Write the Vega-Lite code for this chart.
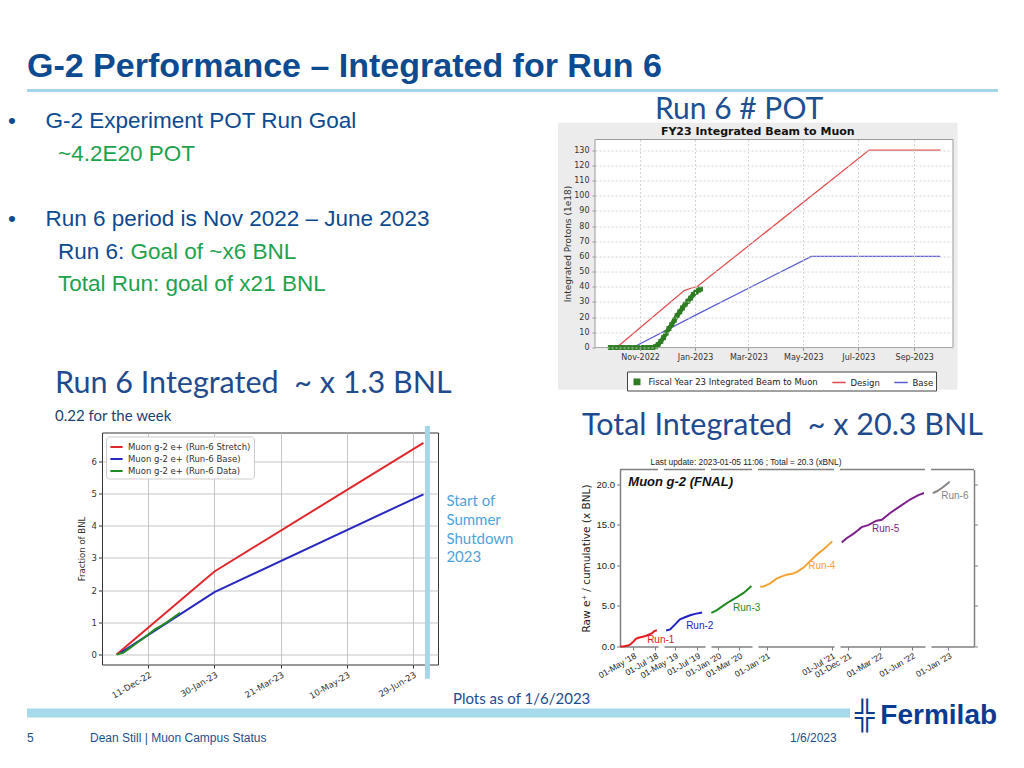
{
"$schema": "https://vega.github.io/schema/vega-lite/v6.json",
"background": "white",
"padding": {"left": 8, "top": 49.5, "right": 2, "bottom": 2},
"config": {
  "font": "Liberation Sans",
  "view": {"stroke": null},
  "axis": {"labelFont": "DejaVu Sans", "titleFont": "DejaVu Sans", "titleFontWeight": "normal"},
  "legend": {"labelFont": "DejaVu Sans"},
  "title": {"fontWeight": "normal"}
},
"datasets": {
  "slide": [
    {"line": 1, "level": 0, "tone": "normal", "continued": false, "text": "\u2022\u00a0\u00a0\u00a0\u00a0\u2009G-2 Experiment POT Run Goal"},
    {"line": 2, "level": 1, "tone": "highlight", "continued": false, "text": "~4.2E20 POT"},
    {"line": 4, "level": 0, "tone": "normal", "continued": false, "text": "\u2022\u00a0\u00a0\u00a0\u00a0\u2009Run 6 period is Nov 2022 \u2013 June 2023"},
    {"line": 5, "level": 1, "tone": "normal", "continued": false, "text": "Run 6:"},
    {"line": 5, "level": 1, "tone": "highlight", "continued": true, "text": "Goal of ~x6 BNL"},
    {"line": 6, "level": 1, "tone": "highlight", "continued": false, "text": "Total Run: goal of x21 BNL"}
  ],
  "run6": [
    {"series": "Muon g-2 e+ (Run-6 Stretch)", "date": "2022-11-17", "value": 0},
    {"series": "Muon g-2 e+ (Run-6 Stretch)", "date": "2023-01-30", "value": 2.58},
    {"series": "Muon g-2 e+ (Run-6 Stretch)", "date": "2023-07-07", "value": 6.58},
    {"series": "Muon g-2 e+ (Run-6 Base)", "date": "2022-11-20", "value": 0.05},
    {"series": "Muon g-2 e+ (Run-6 Base)", "date": "2023-01-30", "value": 1.94},
    {"series": "Muon g-2 e+ (Run-6 Base)", "date": "2023-07-07", "value": 4.98},
    {"series": "Muon g-2 e+ (Run-6 Data)", "date": "2022-11-17", "value": 0},
    {"series": "Muon g-2 e+ (Run-6 Data)", "date": "2022-11-22", "value": 0.05},
    {"series": "Muon g-2 e+ (Run-6 Data)", "date": "2022-11-27", "value": 0.2},
    {"series": "Muon g-2 e+ (Run-6 Data)", "date": "2022-12-02", "value": 0.35},
    {"series": "Muon g-2 e+ (Run-6 Data)", "date": "2022-12-07", "value": 0.5},
    {"series": "Muon g-2 e+ (Run-6 Data)", "date": "2022-12-11", "value": 0.62},
    {"series": "Muon g-2 e+ (Run-6 Data)", "date": "2022-12-16", "value": 0.78},
    {"series": "Muon g-2 e+ (Run-6 Data)", "date": "2022-12-21", "value": 0.9},
    {"series": "Muon g-2 e+ (Run-6 Data)", "date": "2022-12-26", "value": 1.03},
    {"series": "Muon g-2 e+ (Run-6 Data)", "date": "2022-12-31", "value": 1.18},
    {"series": "Muon g-2 e+ (Run-6 Data)", "date": "2023-01-04", "value": 1.3}
  ],
  "shutdown": [
    {"date": "2023-07-10", "note": "Start of\nSummer\nShutdown\n2023"}
  ],
  "pot": [
    {"series": "Design", "date": "2022-10-06", "value": 0},
    {"series": "Design", "date": "2022-12-20", "value": 37.5},
    {"series": "Design", "date": "2022-12-27", "value": 39.0},
    {"series": "Design", "date": "2023-01-03", "value": 40.0},
    {"series": "Design", "date": "2023-07-13", "value": 130},
    {"series": "Design", "date": "2023-09-30", "value": 130},
    {"series": "Base", "date": "2022-10-24", "value": 0},
    {"series": "Base", "date": "2023-01-02", "value": 21.5},
    {"series": "Base", "date": "2023-05-10", "value": 60},
    {"series": "Base", "date": "2023-09-30", "value": 60},
    {"series": "Fiscal Year 23 Integrated Beam to Muon", "date": "2022-09-29", "value": 0},
    {"series": "Fiscal Year 23 Integrated Beam to Muon", "date": "2022-10-06", "value": 0},
    {"series": "Fiscal Year 23 Integrated Beam to Muon", "date": "2022-10-13", "value": 0},
    {"series": "Fiscal Year 23 Integrated Beam to Muon", "date": "2022-10-20", "value": 0},
    {"series": "Fiscal Year 23 Integrated Beam to Muon", "date": "2022-10-27", "value": 0},
    {"series": "Fiscal Year 23 Integrated Beam to Muon", "date": "2022-11-03", "value": 0},
    {"series": "Fiscal Year 23 Integrated Beam to Muon", "date": "2022-11-10", "value": 0},
    {"series": "Fiscal Year 23 Integrated Beam to Muon", "date": "2022-11-15", "value": 0},
    {"series": "Fiscal Year 23 Integrated Beam to Muon", "date": "2022-11-18", "value": 0.5},
    {"series": "Fiscal Year 23 Integrated Beam to Muon", "date": "2022-11-21", "value": 2},
    {"series": "Fiscal Year 23 Integrated Beam to Muon", "date": "2022-11-24", "value": 4},
    {"series": "Fiscal Year 23 Integrated Beam to Muon", "date": "2022-11-27", "value": 6.5},
    {"series": "Fiscal Year 23 Integrated Beam to Muon", "date": "2022-11-30", "value": 9.5},
    {"series": "Fiscal Year 23 Integrated Beam to Muon", "date": "2022-12-03", "value": 12.5},
    {"series": "Fiscal Year 23 Integrated Beam to Muon", "date": "2022-12-06", "value": 15},
    {"series": "Fiscal Year 23 Integrated Beam to Muon", "date": "2022-12-09", "value": 18},
    {"series": "Fiscal Year 23 Integrated Beam to Muon", "date": "2022-12-12", "value": 21},
    {"series": "Fiscal Year 23 Integrated Beam to Muon", "date": "2022-12-15", "value": 23.5},
    {"series": "Fiscal Year 23 Integrated Beam to Muon", "date": "2022-12-18", "value": 26},
    {"series": "Fiscal Year 23 Integrated Beam to Muon", "date": "2022-12-21", "value": 28.5},
    {"series": "Fiscal Year 23 Integrated Beam to Muon", "date": "2022-12-24", "value": 30.5},
    {"series": "Fiscal Year 23 Integrated Beam to Muon", "date": "2022-12-27", "value": 32.5},
    {"series": "Fiscal Year 23 Integrated Beam to Muon", "date": "2022-12-30", "value": 35},
    {"series": "Fiscal Year 23 Integrated Beam to Muon", "date": "2023-01-02", "value": 36.5},
    {"series": "Fiscal Year 23 Integrated Beam to Muon", "date": "2023-01-05", "value": 37.8},
    {"series": "Fiscal Year 23 Integrated Beam to Muon", "date": "2023-01-07", "value": 38.5}
  ],
  "bnl": [
    {"run": "Run-1", "date": "2018-03-26", "value": 0.0},
    {"run": "Run-1", "date": "2018-04-06", "value": 0.03},
    {"run": "Run-1", "date": "2018-04-18", "value": 0.12},
    {"run": "Run-1", "date": "2018-04-25", "value": 0.3},
    {"run": "Run-1", "date": "2018-05-02", "value": 0.6},
    {"run": "Run-1", "date": "2018-05-09", "value": 0.95},
    {"run": "Run-1", "date": "2018-05-16", "value": 1.08},
    {"run": "Run-1", "date": "2018-05-28", "value": 1.2},
    {"run": "Run-1", "date": "2018-06-08", "value": 1.35},
    {"run": "Run-1", "date": "2018-06-22", "value": 1.62},
    {"run": "Run-1", "date": "2018-06-29", "value": 1.9},
    {"run": "Run-1", "date": "2018-07-06", "value": 2.0},
    {"run": "Run-2", "date": "2019-04-07", "value": 1.97},
    {"run": "Run-2", "date": "2019-04-18", "value": 2.1},
    {"run": "Run-2", "date": "2019-05-01", "value": 2.7},
    {"run": "Run-2", "date": "2019-05-15", "value": 3.35},
    {"run": "Run-2", "date": "2019-05-29", "value": 3.6},
    {"run": "Run-2", "date": "2019-06-12", "value": 3.85},
    {"run": "Run-2", "date": "2019-06-26", "value": 4.02},
    {"run": "Run-2", "date": "2019-07-15", "value": 4.18},
    {"run": "Run-3", "date": "2019-12-13", "value": 4.15},
    {"run": "Run-3", "date": "2019-12-28", "value": 4.45},
    {"run": "Run-3", "date": "2020-01-15", "value": 5.0},
    {"run": "Run-3", "date": "2020-02-05", "value": 5.6},
    {"run": "Run-3", "date": "2020-02-23", "value": 6.05},
    {"run": "Run-3", "date": "2020-03-14", "value": 6.6},
    {"run": "Run-3", "date": "2020-03-28", "value": 7.1},
    {"run": "Run-3", "date": "2020-04-05", "value": 7.45},
    {"run": "Run-4", "date": "2020-12-13", "value": 7.35},
    {"run": "Run-4", "date": "2020-12-22", "value": 7.4},
    {"run": "Run-4", "date": "2021-01-09", "value": 7.75},
    {"run": "Run-4", "date": "2021-01-28", "value": 8.35},
    {"run": "Run-4", "date": "2021-02-10", "value": 8.6},
    {"run": "Run-4", "date": "2021-02-25", "value": 8.85},
    {"run": "Run-4", "date": "2021-03-12", "value": 8.95},
    {"run": "Run-4", "date": "2021-03-26", "value": 9.2},
    {"run": "Run-4", "date": "2021-04-14", "value": 9.75},
    {"run": "Run-4", "date": "2021-05-02", "value": 10.55},
    {"run": "Run-4", "date": "2021-05-21", "value": 11.35},
    {"run": "Run-4", "date": "2021-06-09", "value": 12.0},
    {"run": "Run-4", "date": "2021-07-02", "value": 12.95},
    {"run": "Run-5", "date": "2021-11-12", "value": 12.8},
    {"run": "Run-5", "date": "2021-11-25", "value": 13.3},
    {"run": "Run-5", "date": "2021-12-11", "value": 13.75},
    {"run": "Run-5", "date": "2021-12-25", "value": 14.2},
    {"run": "Run-5", "date": "2022-01-08", "value": 14.7},
    {"run": "Run-5", "date": "2022-01-27", "value": 14.95},
    {"run": "Run-5", "date": "2022-02-20", "value": 15.5},
    {"run": "Run-5", "date": "2022-03-07", "value": 15.6},
    {"run": "Run-5", "date": "2022-03-31", "value": 16.45},
    {"run": "Run-5", "date": "2022-04-28", "value": 17.25},
    {"run": "Run-5", "date": "2022-05-27", "value": 18.1},
    {"run": "Run-5", "date": "2022-06-20", "value": 18.65},
    {"run": "Run-5", "date": "2022-07-06", "value": 18.9},
    {"run": "Run-6", "date": "2022-11-18", "value": 18.9},
    {"run": "Run-6", "date": "2022-12-01", "value": 19.15},
    {"run": "Run-6", "date": "2022-12-15", "value": 19.55},
    {"run": "Run-6", "date": "2023-01-05", "value": 20.3}
  ],
  "runLabels": [
    {"run": "Run-1", "date": "2018-06-09", "value": 0.74},
    {"run": "Run-2", "date": "2019-06-01", "value": 2.58},
    {"run": "Run-3", "date": "2020-02-13", "value": 4.8},
    {"run": "Run-4", "date": "2021-04-26", "value": 9.96},
    {"run": "Run-5", "date": "2022-02-07", "value": 14.5},
    {"run": "Run-6", "date": "2022-12-12", "value": 18.57}
  ]
},
"bounds": "flush",
"spacing": 49,
"resolve": {"scale": {"x": "independent", "y": "independent", "color": "independent"}},
"vconcat": [
  {
    "width": 971, "height": 2,
    "data": {"values": [{}]},
    "title": {"text": "G-2 Performance \u2013 Integrated for Run 6", "anchor": "start", "frame": "group", "offset": 4.5, "font": "Liberation Sans", "fontSize": 34, "fontWeight": "bold", "color": "#0e4a90"},
    "mark": {"type": "rule", "color": "#a3d4e8", "strokeWidth": 3},
    "encoding": {"y": {"datum": 0, "type": "quantitative", "scale": {"domain": [0, 1]}, "axis": null}}
  },
  {
    "bounds": "flush", "spacing": 568,
    "resolve": {"scale": {"x": "independent", "y": "independent", "color": "independent"}},
    "hconcat": [
      {
        "bounds": "flush", "spacing": 129,
        "resolve": {"scale": {"x": "independent", "y": "independent", "color": "independent"}},
        "vconcat": [
          {
            "width": 31, "height": 164,
            "data": {"name": "slide"},
            "encoding": {
              "x": {"field": "level", "type": "quantitative", "scale": {"domain": [0.38, 1], "zero": false, "nice": false}, "axis": null},
              "y": {"field": "line", "type": "quantitative", "scale": {"domain": [1.56, 6.59], "reverse": true, "zero": false, "nice": false}, "axis": null},
              "text": {"field": "text"},
              "color": {"field": "tone", "type": "nominal", "scale": {"domain": ["normal", "highlight"], "range": ["#0e4a90", "#1ea24e"]}, "legend": null}
            },
            "layer": [
              {
                "transform": [{"filter": "!datum.continued"}],
                "mark": {"type": "text", "align": "left", "baseline": "middle", "font": "Liberation Sans", "fontSize": 22.5}
              },
              {
                "transform": [{"filter": "datum.continued"}],
                "mark": {"type": "text", "align": "left", "baseline": "middle", "font": "Liberation Sans", "fontSize": 22.5, "dx": 72.5}
              }
            ]
          },
          {
            "bounds": "flush", "spacing": 74,
            "resolve": {"scale": {"x": "independent", "y": "independent", "color": "independent"}},
            "hconcat": [
              {"width": 1, "height": 1, "data": {"values": []}, "mark": "point"},
              {
                "width": 336, "height": 232,
                "view": {"stroke": "#333333", "strokeWidth": 1},
                "title": {"text": "Run 6 Integrated\u00a0 ~ x 1.3 BNL", "subtitle": "0.22 for the week", "anchor": "start", "frame": "group", "dx": -47, "offset": 0, "font": "Lato", "fontSize": 30.5, "fontWeight": "normal", "color": "#1f4b8e", "subtitleFont": "Lato", "subtitleFontSize": 15, "subtitleColor": "#1f3f6f", "subtitlePadding": 9.4},
                "layer": [
                  {
                    "data": {"name": "run6"},
                    "mark": {"type": "line", "strokeWidth": 2},
                    "encoding": {
                      "x": {"field": "date", "type": "temporal",
                        "scale": {"domain": [{"year": 2022, "month": 11, "date": 6}, {"year": 2023, "month": 7, "date": 18}], "nice": false},
                        "axis": {"values": [{"year": 2022, "month": 12, "date": 11}, {"year": 2023, "month": 1, "date": 30}, {"year": 2023, "month": 3, "date": 21}, {"year": 2023, "month": 5, "date": 10}, {"year": 2023, "month": 6, "date": 29}],
                          "format": "%d-%b-%y", "labelAngle": -30, "labelAlign": "right", "labelBaseline": "top", "labelFontSize": 8.5, "labelColor": "#333333", "labelPadding": 2, "labelOverlap": false, "labelFlush": false,
                          "grid": true, "gridColor": "#b8b8b8", "gridWidth": 0.8, "domain": false, "ticks": true, "tickColor": "#333333", "tickSize": 3.5, "title": null}},
                      "y": {"field": "value", "type": "quantitative",
                        "scale": {"domain": [-0.31, 6.9], "nice": false, "zero": false},
                        "axis": {"values": [0, 1, 2, 3, 4, 5, 6], "tickCount": 7, "format": "d", "labelOverlap": false, "labelFontSize": 8.5, "labelColor": "#333333", "labelPadding": 2, "grid": true, "gridColor": "#b8b8b8", "gridWidth": 0.8, "domain": false, "tickColor": "#333333", "tickSize": 3.5,
                          "title": "Fraction of BNL", "titleFontSize": 8.5, "titleColor": "#333333", "titlePadding": 5}},
                      "color": {"field": "series", "type": "nominal",
                        "scale": {"domain": ["Muon g-2 e+ (Run-6 Stretch)", "Muon g-2 e+ (Run-6 Base)", "Muon g-2 e+ (Run-6 Data)"], "range": ["#e0282c", "#2828c0", "#228b22"]},
                        "legend": {"orient": "top-left", "title": null, "offset": 4, "padding": 3, "strokeColor": "#cccccc", "fillColor": "white", "cornerRadius": 3, "labelFontSize": 8.5, "labelColor": "#333333", "symbolType": "stroke", "symbolStrokeWidth": 2, "symbolSize": 150, "rowPadding": 0}}
                    }
                  },
                  {
                    "data": {"name": "shutdown"},
                    "mark": {"type": "rule", "color": "#a6d6e8", "strokeWidth": 5},
                    "encoding": {
                      "x": {"field": "date", "type": "temporal"},
                      "y": {"datum": -0.75, "type": "quantitative"},
                      "y2": {"datum": 7.1}
                    }
                  },
                  {
                    "data": {"name": "shutdown"},
                    "mark": {"type": "text", "align": "left", "baseline": "top", "dx": 19, "font": "Lato", "fontSize": 15, "lineHeight": 18.7, "lineBreak": "\n", "color": "#4fa3d8"},
                    "encoding": {
                      "x": {"field": "date", "type": "temporal"},
                      "y": {"datum": 4.98, "type": "quantitative"},
                      "text": {"field": "note"}
                    }
                  }
                ]
              }
            ]
          }
        ]
      },
      {
        "bounds": "flush", "spacing": 122,
        "resolve": {"scale": {"x": "independent", "y": "independent", "color": "independent"}},
        "vconcat": [
          {
            "width": 358, "height": 208,
            "title": {"text": "Run 6 # POT\u00a0\u00a0\u00a0\u00a0\u00a0\u200b", "subtitle": "FY23 Integrated Beam to Muon", "anchor": "middle", "frame": "bounds", "offset": -14.3, "font": "Lato", "fontSize": 30, "fontWeight": "normal", "color": "#1d4f91", "subtitleFont": "DejaVu Sans", "subtitleFontSize": 11, "subtitleFontWeight": "bold", "subtitleColor": "#111111", "subtitlePadding": 0.7},
            "layer": [
              {
                "data": {"values": [{}]},
                "mark": {"type": "rect", "fill": "#ececec"},
                "encoding": {
                  "x": {"datum": {"year": 2022, "month": 8, "date": 2}, "type": "temporal"},
                  "x2": {"datum": {"year": 2023, "month": 10, "date": 19}},
                  "y": {"datum": -27.9, "type": "quantitative"},
                  "y2": {"datum": 148}
                }
              },
              {
                "data": {"values": [{}]},
                "mark": {"type": "rect", "fill": "white", "stroke": "#9a9a9a", "strokeWidth": 1},
                "encoding": {
                  "x": {"datum": {"year": 2022, "month": 9, "date": 12}, "type": "temporal"},
                  "x2": {"datum": {"year": 2023, "month": 10, "date": 14}},
                  "y": {"datum": 0, "type": "quantitative"},
                  "y2": {"datum": 137}
                }
              },
              {
                "data": {"name": "pot"},
                "transform": [{"filter": "datum.series !== 'Fiscal Year 23 Integrated Beam to Muon'"}],
                "mark": {"type": "line", "strokeWidth": 1.2},
                "encoding": {
                  "x": {"field": "date", "type": "temporal",
                    "scale": {"domain": [{"year": 2022, "month": 9, "date": 12}, {"year": 2023, "month": 10, "date": 14}], "nice": false},
                    "axis": {"values": [{"year": 2022, "month": 11, "date": 1}, {"year": 2023, "month": 1, "date": 1}, {"year": 2023, "month": 3, "date": 1}, {"year": 2023, "month": 5, "date": 1}, {"year": 2023, "month": 7, "date": 1}, {"year": 2023, "month": 9, "date": 1}],
                      "format": "%b-%Y", "labelAngle": 0, "labelFontSize": 8, "labelColor": "#333333", "labelPadding": 3, "labelFlush": false, "labelOverlap": false,
                      "grid": true, "gridDash": [2, 2], "gridColor": "#d4d4d4", "domain": false, "ticks": true, "tickSize": 3, "tickColor": "#999999", "title": null, "zindex": 1}},
                  "y": {"field": "value", "type": "quantitative",
                    "scale": {"domain": [0, 137], "nice": false, "zero": false},
                    "axis": {"values": [0, 10, 20, 30, 40, 50, 60, 70, 80, 90, 100, 110, 120, 130], "tickCount": 14, "format": "d", "labelOverlap": false, "labelFontSize": 8, "labelColor": "#333333", "labelPadding": 3,
                      "grid": true, "gridDash": [2, 2], "gridColor": "#d4d4d4", "domain": false, "ticks": true, "tickSize": 3, "tickColor": "#999999",
                      "title": "Integrated Protons (1e18)", "titleFontSize": 9, "titleColor": "#333333", "titlePadding": 1, "zindex": 1}},
                  "color": {"field": "series", "type": "nominal",
                    "scale": {"domain": ["Fiscal Year 23 Integrated Beam to Muon", "Design", "Base"], "range": ["#2e7d23", "#e04a4a", "#5a5ad2"]},
                    "legend": {"orient": "none", "legendX": 32, "legendY": 232, "direction": "horizontal", "title": null, "strokeColor": "#444444", "fillColor": "white", "padding": 2.5,
                      "labelFontSize": 8.5, "labelColor": "#222222", "labelLimit": 300, "symbolType": "stroke", "symbolStrokeWidth": 1.5, "symbolSize": 180, "columnPadding": 10,
                      "encode": {"symbols": {"update": {
                        "shape": {"signal": "datum.value === 'Fiscal Year 23 Integrated Beam to Muon' ? 'square' : 'stroke'"},
                        "size": {"signal": "datum.value === 'Fiscal Year 23 Integrated Beam to Muon' ? 30 : 180"},
                        "fill": {"signal": "datum.value === 'Fiscal Year 23 Integrated Beam to Muon' ? '#2e7d23' : 'transparent'"}
                      }}}}}
                }
              },
              {
                "data": {"name": "pot"},
                "transform": [{"filter": "datum.series === 'Fiscal Year 23 Integrated Beam to Muon'"}],
                "mark": {"type": "line", "strokeWidth": 4.5},
                "encoding": {
                  "x": {"field": "date", "type": "temporal"},
                  "y": {"field": "value", "type": "quantitative"},
                  "color": {"field": "series", "type": "nominal"}
                }
              },
              {
                "data": {"name": "pot"},
                "transform": [{"filter": "datum.series === 'Fiscal Year 23 Integrated Beam to Muon'"}],
                "mark": {"type": "point", "shape": "square", "filled": true, "size": 24, "opacity": 1},
                "encoding": {
                  "x": {"field": "date", "type": "temporal"},
                  "y": {"field": "value", "type": "quantitative"},
                  "color": {"field": "series", "type": "nominal"}
                }
              }
            ]
          },
          {
            "bounds": "flush", "spacing": 6,
            "resolve": {"scale": {"x": "independent", "y": "independent", "color": "independent"}},
            "hconcat": [
              {"width": 19, "height": 1, "data": {"values": []}, "mark": "point"},
              {
                "width": 38, "height": 177,
                "layer": [
                  {
                    "data": {"name": "bnl"}, "transform": [{"filter": "datum.run === 'Run-1'"}],
                    "mark": {"type": "line", "color": "#e41a1c", "strokeWidth": 2},
                    "encoding": {
                      "x": {"field": "date", "type": "temporal", "scale": {"domain": [{"year": 2018, "month": 3, "date": 26}, {"year": 2018, "month": 7, "date": 9}], "nice": false},
                        "axis": {"values": [{"year": 2018, "month": 5, "date": 1}, {"year": 2018, "month": 7, "date": 1}], "format": "%d-%b '%y", "labelAngle": -30, "labelAlign": "right", "labelBaseline": "top", "labelFont": "Liberation Sans", "labelFontSize": 8.5, "labelColor": "#222222", "labelPadding": 1, "labelOverlap": false, "labelFlush": false, "labelBound": false, "domainColor": "#808080", "domainWidth": 1.5, "tickColor": "#808080", "tickSize": 3.5, "grid": false, "title": null}},
                      "y": {"field": "value", "type": "quantitative", "scale": {"domain": [0, 21.8], "nice": false, "zero": false},
                        "axis": {"values": [0, 2.5, 5, 7.5, 10, 12.5, 15, 17.5, 20], "format": ".1f", "labelFont": "Liberation Sans", "labelFontSize": 9.5, "labelColor": "#222222", "labelPadding": 2, "domainColor": "#808080", "domainWidth": 1.5, "tickColor": "#808080", "tickSize": 3.5, "grid": false,
                          "title": "Raw e\u207a / cumulative (x BNL)", "titleFont": "DejaVu Sans", "titleFontSize": 10.5, "titleColor": "#222222", "titlePadding": 5}}
                    }
                  },
                  {
                    "data": {"name": "runLabels"}, "transform": [{"filter": "datum.run === 'Run-1'"}],
                    "mark": {"type": "text", "align": "left", "baseline": "middle", "fontSize": 10, "color": "#e41a1c"},
                    "encoding": {"x": {"field": "date", "type": "temporal"}, "y": {"field": "value", "type": "quantitative"}, "text": {"field": "run"}}
                  },
                  {
                    "data": {"values": [{"label": "Muon g-2 (FNAL)"}]},
                    "mark": {"type": "text", "align": "left", "baseline": "middle", "fontSize": 13, "fontWeight": "bold", "fontStyle": "italic", "color": "#111111"},
                    "encoding": {"x": {"datum": {"year": 2018, "month": 4, "date": 18}, "type": "temporal"}, "y": {"datum": 20.3, "type": "quantitative"}, "text": {"field": "label"}}
                  },
                  {
                    "data": {"values": [{}]},
                    "mark": {"type": "rule", "color": "#808080", "strokeWidth": 1.5},
                    "encoding": {"y": {"datum": 21.8, "type": "quantitative"}}
                  }
                ]
              },
              {
                "width": 41, "height": 177,
                "layer": [
                  {
                    "data": {"name": "bnl"}, "transform": [{"filter": "datum.run === 'Run-2'"}],
                    "mark": {"type": "line", "color": "#2222c4", "strokeWidth": 2},
                    "encoding": {
                      "x": {"field": "date", "type": "temporal", "scale": {"domain": [{"year": 2019, "month": 4, "date": 1}, {"year": 2019, "month": 7, "date": 23}], "nice": false},
                        "axis": {"values": [{"year": 2019, "month": 5, "date": 1}, {"year": 2019, "month": 7, "date": 1}], "format": "%d-%b '%y", "labelAngle": -30, "labelAlign": "right", "labelBaseline": "top", "labelFont": "Liberation Sans", "labelFontSize": 8.5, "labelColor": "#222222", "labelPadding": 1, "labelOverlap": false, "labelFlush": false, "labelBound": false, "domainColor": "#808080", "domainWidth": 1.5, "tickColor": "#808080", "tickSize": 3.5, "grid": false, "title": null}},
                      "y": {"field": "value", "type": "quantitative", "scale": {"domain": [0, 21.8], "nice": false, "zero": false}, "axis": null}
                    }
                  },
                  {
                    "data": {"name": "runLabels"}, "transform": [{"filter": "datum.run === 'Run-2'"}],
                    "mark": {"type": "text", "align": "left", "baseline": "middle", "fontSize": 10, "color": "#2222c4"},
                    "encoding": {"x": {"field": "date", "type": "temporal"}, "y": {"field": "value", "type": "quantitative"}, "text": {"field": "run"}}
                  },
                  {
                    "data": {"values": [{}]},
                    "mark": {"type": "rule", "color": "#808080", "strokeWidth": 1.5},
                    "encoding": {"y": {"datum": 21.8, "type": "quantitative"}}
                  }
                ]
              },
              {
                "width": 41, "height": 177,
                "title": {"text": "Last update: 2023-01-05 11:06 ; Total = 20.3 (xBNL)", "anchor": "middle", "frame": "group", "dx": 14.5, "offset": 2.5, "font": "Liberation Sans", "fontSize": 8.3, "fontWeight": "normal", "color": "#222222"},
                "layer": [
                  {
                    "data": {"name": "bnl"}, "transform": [{"filter": "datum.run === 'Run-3'"}],
                    "mark": {"type": "line", "color": "#1e8a1e", "strokeWidth": 2},
                    "encoding": {
                      "x": {"field": "date", "type": "temporal", "scale": {"domain": [{"year": 2019, "month": 12, "date": 12}, {"year": 2020, "month": 4, "date": 7}], "nice": false},
                        "axis": {"values": [{"year": 2020, "month": 1, "date": 1}, {"year": 2020, "month": 3, "date": 1}], "format": "%d-%b '%y", "labelAngle": -30, "labelAlign": "right", "labelBaseline": "top", "labelFont": "Liberation Sans", "labelFontSize": 8.5, "labelColor": "#222222", "labelPadding": 1, "labelOverlap": false, "labelFlush": false, "labelBound": false, "domainColor": "#808080", "domainWidth": 1.5, "tickColor": "#808080", "tickSize": 3.5, "grid": false, "title": null}},
                      "y": {"field": "value", "type": "quantitative", "scale": {"domain": [0, 21.8], "nice": false, "zero": false}, "axis": null}
                    }
                  },
                  {
                    "data": {"name": "runLabels"}, "transform": [{"filter": "datum.run === 'Run-3'"}],
                    "mark": {"type": "text", "align": "left", "baseline": "middle", "fontSize": 10, "color": "#1e8a1e"},
                    "encoding": {"x": {"field": "date", "type": "temporal"}, "y": {"field": "value", "type": "quantitative"}, "text": {"field": "run"}}
                  },
                  {
                    "data": {"values": [{}]},
                    "mark": {"type": "rule", "color": "#808080", "strokeWidth": 1.5},
                    "encoding": {"y": {"datum": 21.8, "type": "quantitative"}}
                  }
                ]
              },
              {
                "width": 76, "height": 177,
                "title": {"text": "Total Integrated\u00a0 ~ x 20.3 BNL", "anchor": "middle", "frame": "group", "dx": -13.5, "offset": 27, "font": "Lato", "fontSize": 30.5, "fontWeight": "normal", "color": "#1f4b8e"},
                "layer": [
                  {
                    "data": {"name": "bnl"}, "transform": [{"filter": "datum.run === 'Run-4'"}],
                    "mark": {"type": "line", "color": "#f4a233", "strokeWidth": 2},
                    "encoding": {
                      "x": {"field": "date", "type": "temporal", "scale": {"domain": [{"year": 2020, "month": 12, "date": 7}, {"year": 2021, "month": 7, "date": 7}], "nice": false},
                        "axis": {"values": [{"year": 2021, "month": 1, "date": 1}, {"year": 2021, "month": 4, "date": 1}, {"year": 2021, "month": 7, "date": 1}], "format": "%d-%b '%y", "labelAngle": -30, "labelAlign": "right", "labelBaseline": "top", "labelFont": "Liberation Sans", "labelFontSize": 8.5, "labelColor": "#222222", "labelPadding": 1, "labelOverlap": false, "labelFlush": false, "labelBound": false, "domainColor": "#808080", "domainWidth": 1.5, "tickColor": "#808080", "tickSize": 3.5, "grid": false, "title": null}},
                      "y": {"field": "value", "type": "quantitative", "scale": {"domain": [0, 21.8], "nice": false, "zero": false}, "axis": null}
                    }
                  },
                  {
                    "data": {"name": "runLabels"}, "transform": [{"filter": "datum.run === 'Run-4'"}],
                    "mark": {"type": "text", "align": "left", "baseline": "middle", "fontSize": 10, "color": "#f4a233"},
                    "encoding": {"x": {"field": "date", "type": "temporal"}, "y": {"field": "value", "type": "quantitative"}, "text": {"field": "run"}}
                  },
                  {
                    "data": {"values": [{}]},
                    "mark": {"type": "rule", "color": "#808080", "strokeWidth": 1.5},
                    "encoding": {"y": {"datum": 21.8, "type": "quantitative"}}
                  }
                ]
              },
              {
                "width": 85, "height": 177,
                "layer": [
                  {
                    "data": {"name": "bnl"}, "transform": [{"filter": "datum.run === 'Run-5'"}],
                    "mark": {"type": "line", "color": "#7d1f8c", "strokeWidth": 2},
                    "encoding": {
                      "x": {"field": "date", "type": "temporal", "scale": {"domain": [{"year": 2021, "month": 11, "date": 7}, {"year": 2022, "month": 7, "date": 9}], "nice": false},
                        "axis": {"values": [{"year": 2021, "month": 12, "date": 1}, {"year": 2022, "month": 3, "date": 1}, {"year": 2022, "month": 6, "date": 1}], "format": "%d-%b '%y", "labelAngle": -30, "labelAlign": "right", "labelBaseline": "top", "labelFont": "Liberation Sans", "labelFontSize": 8.5, "labelColor": "#222222", "labelPadding": 1, "labelOverlap": false, "labelFlush": false, "labelBound": false, "domainColor": "#808080", "domainWidth": 1.5, "tickColor": "#808080", "tickSize": 3.5, "grid": false, "title": null}},
                      "y": {"field": "value", "type": "quantitative", "scale": {"domain": [0, 21.8], "nice": false, "zero": false}, "axis": null}
                    }
                  },
                  {
                    "data": {"name": "runLabels"}, "transform": [{"filter": "datum.run === 'Run-5'"}],
                    "mark": {"type": "text", "align": "left", "baseline": "middle", "fontSize": 10, "color": "#7d1f8c"},
                    "encoding": {"x": {"field": "date", "type": "temporal"}, "y": {"field": "value", "type": "quantitative"}, "text": {"field": "run"}}
                  },
                  {
                    "data": {"values": [{}]},
                    "mark": {"type": "rule", "color": "#808080", "strokeWidth": 1.5},
                    "encoding": {"y": {"datum": 21.8, "type": "quantitative"}}
                  }
                ]
              },
              {
                "width": 43, "height": 177,
                "layer": [
                  {
                    "data": {"name": "bnl"}, "transform": [{"filter": "datum.run === 'Run-6'"}],
                    "mark": {"type": "line", "color": "#858585", "strokeWidth": 2},
                    "encoding": {
                      "x": {"field": "date", "type": "temporal", "scale": {"domain": [{"year": 2022, "month": 11, "date": 13}, {"year": 2023, "month": 3, "date": 15}], "nice": false},
                        "axis": {"values": [{"year": 2023, "month": 1, "date": 1}], "format": "%d-%b '%y", "labelAngle": -30, "labelAlign": "right", "labelBaseline": "top", "labelFont": "Liberation Sans", "labelFontSize": 8.5, "labelColor": "#222222", "labelPadding": 1, "labelOverlap": false, "labelFlush": false, "labelBound": false, "domainColor": "#808080", "domainWidth": 1.5, "tickColor": "#808080", "tickSize": 3.5, "grid": false, "title": null}},
                      "y": {"field": "value", "type": "quantitative", "scale": {"domain": [0, 21.8], "nice": false, "zero": false},
                        "axis": {"orient": "right", "values": [0, 2.5, 5, 7.5, 10, 12.5, 15, 17.5, 20], "labels": false, "domainColor": "#808080", "domainWidth": 1.5, "tickColor": "#808080", "tickSize": 3.5, "grid": false, "title": null}}
                    }
                  },
                  {
                    "data": {"name": "runLabels"}, "transform": [{"filter": "datum.run === 'Run-6'"}],
                    "mark": {"type": "text", "align": "left", "baseline": "middle", "fontSize": 10, "color": "#858585"},
                    "encoding": {"x": {"field": "date", "type": "temporal"}, "y": {"field": "value", "type": "quantitative"}, "text": {"field": "run"}}
                  },
                  {
                    "data": {"values": [{}]},
                    "mark": {"type": "rule", "color": "#808080", "strokeWidth": 1.5},
                    "encoding": {"y": {"datum": 21.8, "type": "quantitative"}}
                  }
                ]
              }
            ]
          }
        ]
      }
    ]
  },
  {
    "bounds": "flush", "spacing": 0,
    "resolve": {"scale": {"x": "independent", "y": "independent", "color": "independent"}},
    "hconcat": [
      {
        "width": 63, "height": 524.5,
        "data": {"values": [{}]},
        "title": {"text": "5", "orient": "bottom", "anchor": "start", "frame": "group", "offset": 15.8, "font": "Liberation Sans", "fontSize": 12, "fontWeight": "normal", "color": "#1f4e8c"},
        "mark": {"type": "rule", "color": "#a6d9ea", "strokeWidth": 9},
        "encoding": {"y": {"datum": 0, "type": "quantitative", "scale": {"domain": [0, 1]}, "axis": null}}
      },
      {
        "width": 363, "height": 524.5,
        "data": {"values": [{}]},
        "title": {"text": "Dean Still | Muon Campus Status", "orient": "bottom", "anchor": "start", "frame": "group", "offset": 15.8, "font": "Liberation Sans", "fontSize": 12, "fontWeight": "normal", "color": "#1f4e8c"},
        "mark": {"type": "rule", "color": "#a6d9ea", "strokeWidth": 9},
        "encoding": {"y": {"datum": 0, "type": "quantitative", "scale": {"domain": [0, 1]}, "axis": null}}
      },
      {
        "width": 337, "height": 524.5,
        "data": {"values": [{}]},
        "title": {"text": "Plots as of 1/6/2023", "orient": "bottom", "anchor": "start", "frame": "group", "offset": -25.5, "font": "Lato", "fontSize": 15, "fontWeight": "normal", "color": "#1f4b8e"},
        "mark": {"type": "rule", "color": "#a6d9ea", "strokeWidth": 9},
        "encoding": {"y": {"datum": 0, "type": "quantitative", "scale": {"domain": [0, 1]}, "axis": null}}
      },
      {
        "width": 60, "height": 524.5,
        "data": {"values": [{}]},
        "title": {"text": "1/6/2023", "orient": "bottom", "anchor": "start", "frame": "group", "offset": 15.8, "font": "Liberation Sans", "fontSize": 12, "fontWeight": "normal", "color": "#1f4e8c"},
        "mark": {"type": "rule", "color": "#a6d9ea", "strokeWidth": 9},
        "encoding": {"y": {"datum": 0, "type": "quantitative", "scale": {"domain": [0, 1]}, "axis": null}}
      },
      {
        "width": 152, "height": 524.5,
        "data": {"values": []},
        "title": {"text": "\u256c\u2009Fermilab", "orient": "bottom", "anchor": "middle", "frame": "group", "offset": -10.6, "font": "Liberation Sans", "fontSize": 28, "fontWeight": "bold", "color": "#0b3b8f"},
        "mark": "point"
      }
    ]
  }
]
}
